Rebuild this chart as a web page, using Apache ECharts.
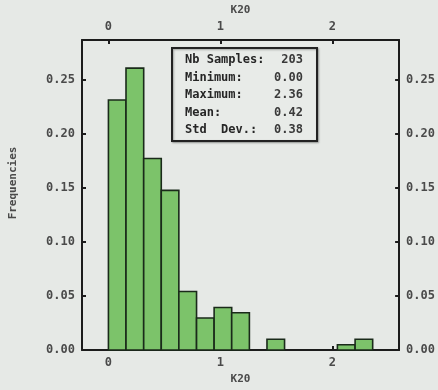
<!DOCTYPE html>
<html><head><meta charset="utf-8">
<script src="https://cdn.jsdelivr.net/npm/echarts@6/dist/echarts.min.js"></script>
<style>html,body{margin:0;padding:0;background:#e6e9e6;}#c{width:438px;height:390px;}</style>
</head><body><div id="c"></div>
<script>
// Histogram of K20 (15 bins)
const binStarts = [0, 0.157, 0.315, 0.472, 0.629, 0.787, 0.944, 1.101, 1.259, 1.416, 1.573, 1.731, 1.888, 2.045, 2.203];
const binEnds   = [0.157, 0.315, 0.472, 0.629, 0.787, 0.944, 1.101, 1.259, 1.416, 1.573, 1.731, 1.888, 2.045, 2.203, 2.36];
const frequencies = [0.2315, 0.2611, 0.1773, 0.1478, 0.0542, 0.0296, 0.0394, 0.0345, 0, 0.0099, 0, 0, 0, 0.0049, 0.0099];
const xTicks = [0, 1, 2];
const yTicks = [0, 0.05, 0.10, 0.15, 0.20, 0.25];
const statLabels = ['Nb Samples:', 'Minimum:', 'Maximum:', 'Mean:', 'Std  Dev.:'];
const statValues = ['203', '0.00', '2.36', '0.42', '0.38'];
const xName = 'K20';
const yName = 'Frequencies';

const FONT = '"DejaVu Sans Mono", "Liberation Mono", monospace';
const axisCol = '#1c1c1c';
const lblCol = '#4a4a4a';

const data = binStarts.map((s, i) => [s, binEnds[i], frequencies[i]]);

function xAxisCfg(pos, gap) {
  return {
    type: 'value', position: pos, min: -0.236, max: 2.596,
    name: xName, nameLocation: 'middle', nameGap: gap,
    nameTextStyle: { fontFamily: FONT, fontSize: 11, fontWeight: 'bold', color: lblCol },
    axisLine: { show: true, onZero: false, lineStyle: { color: axisCol, width: 2 } },
    axisTick: { show: true, inside: true, length: 4, customValues: xTicks, lineStyle: { color: axisCol, width: 2 } },
    axisLabel: { customValues: xTicks, margin: 7, fontFamily: FONT, fontSize: 12, fontWeight: 'bold', color: lblCol },
    splitLine: { show: false }
  };
}
function yAxisCfg(pos, withName) {
  const o = {
    type: 'value', position: pos, min: 0, max: 0.2872,
    axisLine: { show: true, onZero: false, lineStyle: { color: axisCol, width: 2 } },
    axisTick: { show: true, inside: true, length: 4, customValues: yTicks, lineStyle: { color: axisCol, width: 2 } },
    axisLabel: { customValues: yTicks, margin: 7, fontFamily: FONT, fontSize: 12, fontWeight: 'bold', color: lblCol,
      formatter: v => v.toFixed(2) },
    splitLine: { show: false }
  };
  if (withName) {
    o.name = yName; o.nameLocation = 'middle'; o.nameGap = 63; o.nameRotate = 90;
    o.nameTextStyle = { fontFamily: FONT, fontSize: 11, fontWeight: 'bold', color: lblCol, padding: [0, 0, 0, 24] };
  }
  return o;
}

const lineY0 = 61, lineStep = 17.5;
const statTexts = [];
statLabels.forEach((l, i) => {
  statTexts.push({ type: 'text', left: 185, top: lineY0 + i * lineStep - 7,
    style: { text: l, font: 'bold 12px ' + FONT, fill: '#262626' } });
  statTexts.push({ type: 'text', right: 438 - 303, top: lineY0 + i * lineStep - 7,
    style: { text: statValues[i], font: 'bold 12px ' + FONT, fill: '#3a3a3a', textAlign: 'right' } });
});

const chart = echarts.init(document.getElementById('c'), null, { renderer: 'canvas' });
chart.setOption({
  backgroundColor: '#e6e9e6',
  animation: false,
  grid: { left: 82, right: 36, top: 39, bottom: 40, containLabel: false },
  xAxis: [xAxisCfg('bottom', 22), xAxisCfg('top', 20)],
  yAxis: [yAxisCfg('left', true), yAxisCfg('right', false)],
  series: [{
    type: 'custom', xAxisIndex: 0, yAxisIndex: 0, data: data,
    renderItem: function (params, api) {
      const y = api.value(2);
      if (!y) return null;
      const p0 = api.coord([api.value(0), y]);
      const p1 = api.coord([api.value(1), 0]);
      return { type: 'rect', shape: { x: p0[0], y: p0[1], width: p1[0] - p0[0], height: p1[1] - p0[1] },
        style: { fill: '#7cc36a', stroke: '#1a2a1a', lineWidth: 1.6 } };
    }
  }],
  graphic: [
    { type: 'rect', left: 171, top: 47, shape: { x: 0, y: 0, width: 145, height: 93 },
      style: { fill: '#e8ebe8', stroke: '#222', lineWidth: 2, shadowBlur: 2, shadowColor: 'rgba(0,0,0,0.3)', shadowOffsetX: 1, shadowOffsetY: 1 }, z: 10 },
    ...statTexts.map(t => Object.assign(t, { z: 11 }))
  ]
});
</script></body></html>
